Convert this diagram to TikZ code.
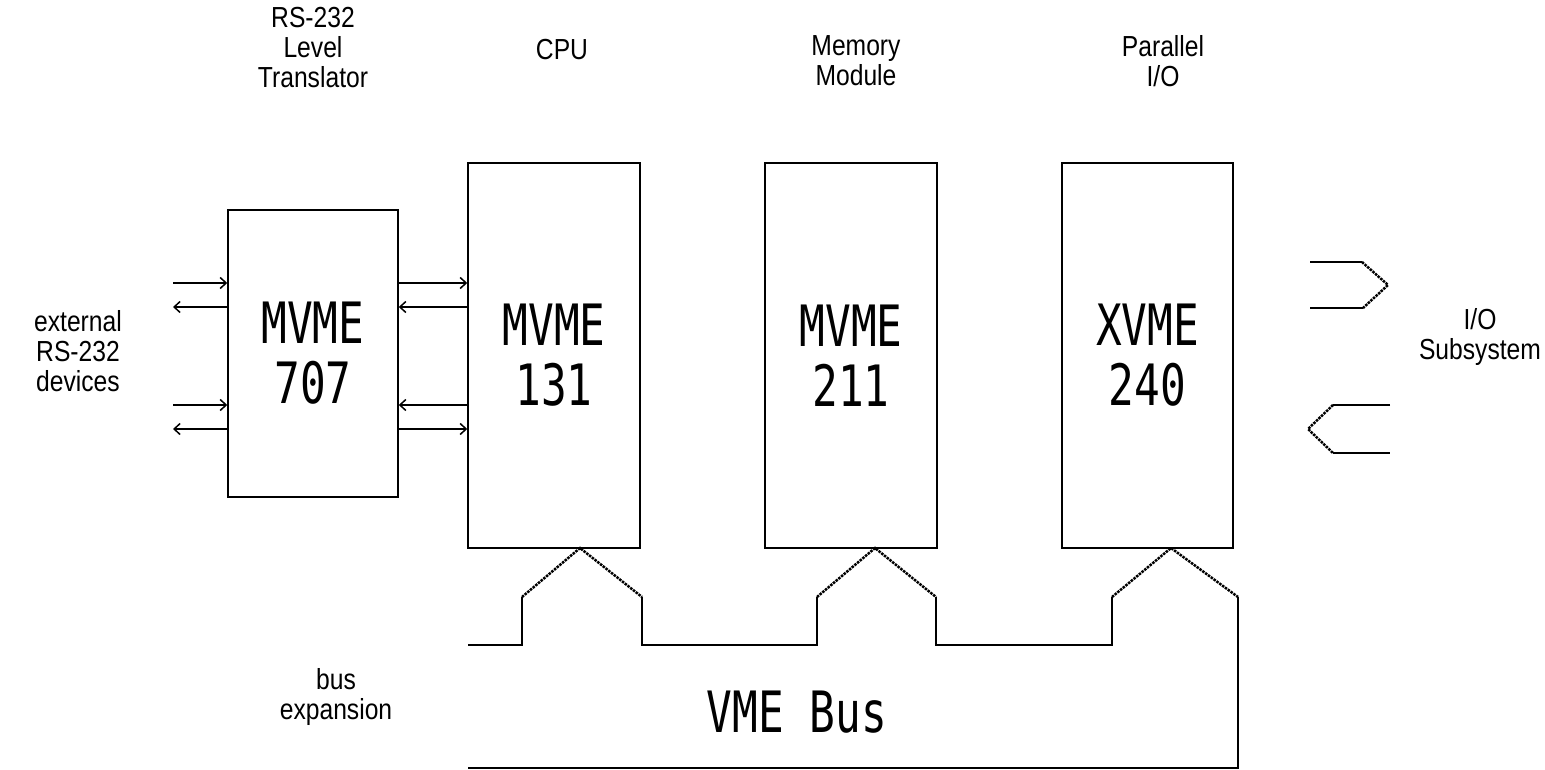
\documentclass[tikz,border=0pt]{standalone}
\usepackage{fontspec}
\usetikzlibrary{arrows.meta}
\newfontfamily\labelfont[FakeStretch=0.85]{Liberation Sans}
\newfontfamily\boardfont[FakeStretch=0.75]{DejaVu Sans Mono}
\begin{document}
\begin{tikzpicture}[x=1pt,y=-1pt,
  board/.style={draw,line width=1.5pt,inner sep=0pt,align=center,font=\boardfont\fontsize{57}{60}\selectfont},
  lbl/.style={inner sep=0pt,align=center,font=\labelfont\fontsize{29}{30}\selectfont},
  sig/.style={line width=1.5pt,-{Straight Barb[length=6pt,width=11pt,line width=1.5pt]}},
  bus/.style={line width=2pt},
  tap/.style={line width=2.5pt,densely dotted}]
\path[use as bounding box] (0,0) rectangle (1545,770);
% boards
\node[board,minimum width=170,minimum height=287] (b707) at (313,353.5) {MVME\\707};
\node[board,minimum width=172,minimum height=385] (b131) at (554,355.5) {MVME\\131};
\node[board,minimum width=172,minimum height=385] (b211) at (851,355.5) {MVME\\211};
\node[board,minimum width=171,minimum height=385] (b240) at (1147.5,355.5) {XVME\\240};
% captions
\node[lbl] (tRS) at (313,48) {RS-232\\Level\\Translator};
\node[lbl] (tCPU) at (562,50) {CPU};
\node[lbl] (tMem) at (856,61) {Memory\\Module};
\node[lbl] (tPar) at (1163,61) {Parallel\\I/O};
\node[lbl] (tExt) at (78,351) {external\\RS-232\\devices};
\node[lbl] (tSub) at (1480,337) {I/O\\Subsystem};
\node[lbl] (tExp) at (336,697) {bus\\expansion};
\node[board,draw=none] (tBus) at (797,712) {VME Bus};
% serial lines
\coordinate (e1) at (173,283);
\coordinate (e2) at (173,307);
\coordinate (e3) at (173,405);
\coordinate (e4) at (173,429);
\draw[sig] (e1) -- (e1 -| b707.west);
\draw[sig] (e2 -| b707.west) -- (e2);
\draw[sig] (e3) -- (e3 -| b707.west);
\draw[sig] (e4 -| b707.west) -- (e4);
\draw[sig] (e1 -| b707.east) -- (e1 -| b131.west);
\draw[sig] (e2 -| b131.west) -- (e2 -| b707.east);
\draw[sig] (e3 -| b131.west) -- (e3 -| b707.east);
\draw[sig] (e4 -| b707.east) -- (e4 -| b131.west);
% I/O ports
\draw[bus] (1310,262) -- (1362,262);
\draw[tap] (1362,262) -- (1388,285) -- (1363,308);
\draw[bus] (1363,308) -- (1310,308);
\draw[bus] (1390,405) -- (1333,405);
\draw[tap] (1333,405) -- (1308,429) -- (1333,453);
\draw[bus] (1333,453) -- (1390,453);
% VME bus
\draw[bus] (468,645) -- (522,645) -- (522,597);
\draw[tap] (522,597) -- (580,548) -- (642,597);
\draw[bus] (642,597) -- (642,645) -- (817,645) -- (817,597);
\draw[tap] (817,597) -- (875,548) -- (936,597);
\draw[bus] (936,597) -- (936,645) -- (1112,645) -- (1112,597);
\draw[tap] (1112,597) -- (1171,548) -- (1238,597);
\draw[bus] (1238,597) -- (1238,768) -- (468,768);
\end{tikzpicture}
\end{document}
